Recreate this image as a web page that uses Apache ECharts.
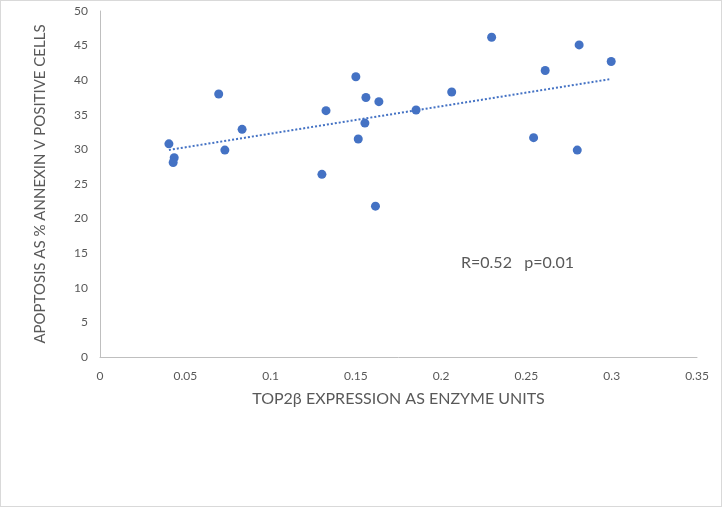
<!DOCTYPE html>
<html>
<head>
<meta charset="UTF-8">
<title>TOP2β vs apoptosis</title>
<script type="text/javascript" src="https://cdn.jsdelivr.net/npm/echarts@6/dist/echarts.min.js"></script>
<style>
  html, body { margin: 0; padding: 0; background: #fff; }
  #main { width: 722px; height: 507px; box-sizing: border-box; border: 1px solid #d9d9d9; }
</style>
</head>
<body>
<div id="main"></div>
<script type="text/javascript">
// TOP2β enzyme units (x) and % annexin V positive cells (y)
var top2b = [0.0404, 0.0435, 0.0429, 0.0696, 0.0732, 0.0833, 0.1301, 0.1325, 0.150, 0.1514, 0.1559,
             0.1553, 0.1635, 0.1615, 0.1853, 0.2062, 0.2296, 0.2542, 0.2610, 0.2809, 0.2798, 0.2997];
var apoptosis = [30.8, 28.8, 28.1, 38.0, 29.9, 32.9, 26.4, 35.6, 40.5, 31.5, 37.5,
                 33.8, 36.9, 21.8, 35.7, 38.3, 46.2, 31.7, 41.4, 45.1, 29.9, 42.7];
var xTicks = [0, 0.05, 0.1, 0.15, 0.2, 0.25, 0.3, 0.35];
var yTicks = [0, 5, 10, 15, 20, 25, 30, 35, 40, 45, 50];

var points = [];
for (var i = 0; i < top2b.length; i++) {
  points.push([top2b[i], apoptosis[i]]);
}

// linear trendline (least squares), drawn from min x to max x
var n = top2b.length, sx = 0, sy = 0, sxx = 0, sxy = 0;
for (var i = 0; i < n; i++) {
  sx += top2b[i]; sy += apoptosis[i];
  sxx += top2b[i] * top2b[i]; sxy += top2b[i] * apoptosis[i];
}
var slope = (n * sxy - sx * sy) / (n * sxx - sx * sx);
var icpt = (sy - slope * sx) / n;
var xmin = Math.min.apply(null, top2b), xmax = Math.max.apply(null, top2b);
var trend = [[xmin, icpt + slope * xmin], [xmax, icpt + slope * xmax]];

var font = 'Lato';
var chart = echarts.init(document.getElementById('main'));
var option = {
  animation: false,
  textStyle: { fontFamily: font },
  grid: { left: 99, right: 24, top: 10, bottom: 149 },
  xAxis: {
    type: 'value',
    min: xTicks[0], max: xTicks[xTicks.length - 1], interval: 0.05,
    name: 'TOP2β EXPRESSION AS ENZYME UNITS',
    nameLocation: 'middle', nameGap: 34,
    nameTextStyle: { color: '#595959', fontSize: 16, fontFamily: font },
    axisLine: { lineStyle: { color: '#bfbfbf', width: 1 } },
    axisTick: { show: false },
    splitLine: { show: false },
    axisLabel: { color: '#595959', fontSize: 12, margin: 13 }
  },
  yAxis: {
    type: 'value',
    min: yTicks[0], max: yTicks[yTicks.length - 1], interval: 5,
    name: 'APOPTOSIS AS % ANNEXIN V POSITIVE CELLS',
    nameLocation: 'middle', nameGap: 52,
    nameTextStyle: { color: '#595959', fontSize: 15, fontFamily: font },
    axisLine: { show: true, lineStyle: { color: '#bfbfbf', width: 1 } },
    axisTick: { show: false },
    splitLine: { show: false },
    axisLabel: { color: '#595959', fontSize: 12, margin: 12 }
  },
  series: [
    {
      type: 'scatter',
      data: points,
      symbolSize: 9,
      itemStyle: { color: '#4472C4', opacity: 1 },
      z: 3
    },
    {
      type: 'line',
      data: trend,
      showSymbol: false,
      symbol: 'none',
      lineStyle: { color: '#4472C4', width: 2, type: [2, 2] },
      z: 2
    }
  ],
  graphic: [
    {
      type: 'text',
      left: 460, top: 254,
      style: { text: 'R=0.52   p=0.01', fill: '#595959', font: '16px ' + font }
    }
  ]
};
chart.setOption(option);
</script>
</body>
</html>
